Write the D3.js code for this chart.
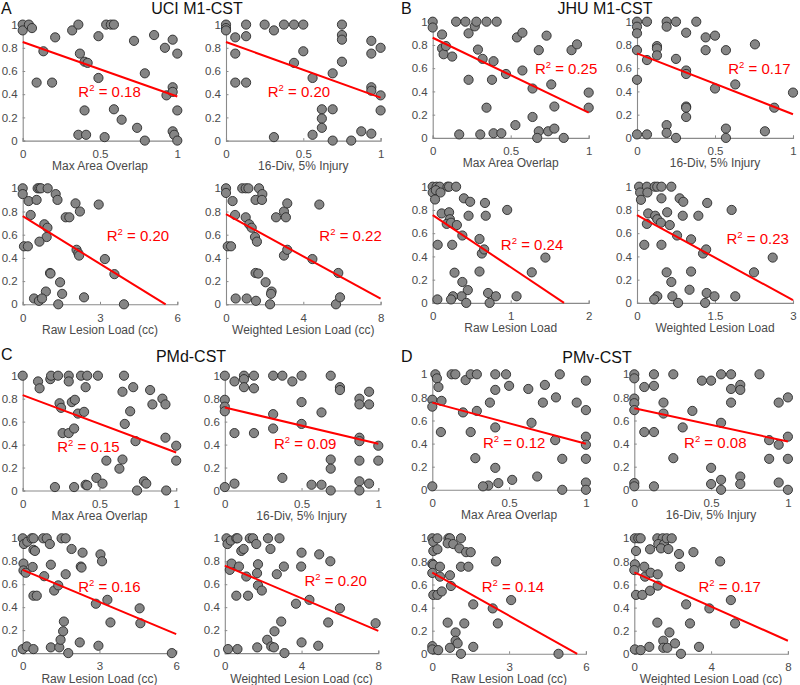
<!DOCTYPE html>
<html><head><meta charset="utf-8">
<script src="https://cdn.jsdelivr.net/npm/d3@7"></script>
<style>
html,body{margin:0;padding:0;background:#fff;}
svg{display:block;font-family:"Liberation Sans",Arial,Helvetica,sans-serif;}
</style></head>
<body>
<svg id="chart" width="800" height="685"></svg>
<script>
// ---------- data ----------
const quadrantTitles = ["UCI M1-CST","JHU M1-CST","PMd-CST","PMv-CST"];
const quadrantLetters = ["A","B","C","D"];
const xLabels = ["Max Area Overlap","16-Div, 5% Injury","Raw Lesion Load (cc)","Weighted Lesion Load (cc)"];
const xLabelsJHU = ["Max Area Overlap","16-Div, 5% Injury","Raw Lesion Load","Weighted Lesion Load"];
const yTicks = [0,0.2,0.4,0.6,0.8,1];
const xTicksUnit = [0,0.5,1];
const xTicksRaw = [0,3,6];
const xTicksWeighted = [0,4,8];
const xTicksRawJHU = [0,1,2];
const xTicksWeightedJHU = [0,1.5,3];

const A1 = [[0,1],[0,0.95],[0.04,1],[0.06,0.97],[0.09,0.5],[0.134,0.77],[0.19,0.5],[0.21,0.89],[0.32,0.95],[0.36,1],[0.37,0.75],[0.40,0.68],[0.42,0.67],[0.40,0.26],[0.36,0.05],[0.41,0.05],[0.49,0.90],[0.49,0.54],[0.53,0.03],[0.54,1],[0.57,1],[0.59,1],[0.59,0.27],[0.64,0.18],[0.72,0.86],[0.74,0.11],[0.79,0.58],[0.79,0],[0.85,0.91],[0.92,0.80],[0.93,0.39],[0.97,0.87],[0.97,0.46],[0.97,0.42],[0.97,0.08],[0.98,0.05],[1,0.75],[1,0.26],[1,0]];
const A2 = [[0,1],[0,0.97],[0,0.95],[0.06,0.89],[0.06,0.75],[0.06,0.5],[0.13,1],[0.13,0.9],[0.13,0.5],[0.25,1],[0.31,0.95],[0.31,0.03],[0.375,1],[0.44,1],[0.5,1],[0.44,0.67],[0.5,0.77],[0.56,0.54],[0.56,0.05],[0.62,0.27],[0.62,0.19],[0.62,0.11],[0.69,0.58],[0.69,0.27],[0.69,0],[0.75,1],[0.75,0.91],[0.75,0.87],[0.75,0.68],[0.81,0],[0.875,0.08],[0.94,0.86],[0.94,0.75],[0.94,0.46],[0.94,0.43],[0.94,0.06],[1,0.8],[1,0.39],[1,0.26]];
const A3 = [[0,1],[0,0.95],[0.23,0.89],[0.54,0.9],[0.31,0.77],[0.05,0.5],[0.2,0.5],[0.58,1],[0.65,1],[0.71,1],[0.97,1],[1.28,0.95],[1.35,0.9],[0.84,0.69],[0.96,0.66],[0.93,0.58],[0.65,0.54],[1.06,0.27],[1.08,0.265],[0.9,0.11],[0.44,0.05],[0.63,0.03],[0.75,0.05],[1.38,0],[1.45,0.19],[1.53,0.09],[1.67,0.75],[1.81,0.75],[2.05,0.87],[2.22,0.8],[2.09,0.47],[2.16,0.44],[2.19,0.42],[2.38,0.06],[2.95,0.86],[3.19,0.39],[3.56,0.26],[3.93,0]];
const A4 = [[0,1],[0,0.96],[0.34,0.89],[0.47,0.77],[0.09,0.5],[0.26,0.5],[0.5,0.05],[0.84,1],[1.02,1],[1.16,1],[1.02,0.75],[1.2,0.69],[1.33,0.66],[1.07,0.05],[1.53,0.9],[1.5,0.58],[1.6,0.54],[1.53,0.27],[1.67,0.265],[1.55,0.03],[1.71,1],[1.88,0.95],[1.86,0.9],[2.05,0.19],[2.36,0.11],[2.33,0.09],[2.28,0],[2.59,0.75],[3.0,0.8],[3.1,0.75],[3.17,0.87],[3.0,0.42],[3.17,0.47],[4.47,0.39],[4.83,0.86],[5.81,0.27],[5.69,0],[5.9,0.06]];
const B1 = [[0,1],[0,0.95],[0.06,0.89],[0.06,0.77],[0.07,0.72],[0.085,0.79],[0.125,0.70],[0.17,0.03],[0.15,1],[0.21,1],[0.23,0.9],[0.23,0.5],[0.27,0.96],[0.28,1],[0.29,0.76],[0.32,0.68],[0.305,0.03],[0.345,1],[0.345,0.26],[0.39,0.66],[0.38,0.5],[0.39,0.04],[0.41,1],[0.44,0.04],[0.47,0.55],[0.53,0.11],[0.54,0.865],[0.575,0.905],[0.575,0.58],[0.64,0.425],[0.64,0.18],[0.68,0.755],[0.68,0.057],[0.67,0],[0.73,0.88],[0.74,0.057],[0.76,0.46],[0.78,0.27],[0.78,0.08],[0.84,0],[0.89,0.755],[0.925,0.805],[1,0.39],[1,0.26]];
const B2 = [[0,1],[0,0.957],[0,0.9],[0,0.755],[0,0.5],[0,0.03],[0.064,1],[0.064,0.67],[0.064,0.03],[0.128,0.79],[0.128,0.77],[0.128,0.71],[0.19,1],[0.19,0.957],[0.19,0.11],[0.19,0.043],[0.25,1],[0.25,0.68],[0.25,0],[0.315,0.905],[0.315,0.58],[0.315,0.55],[0.315,0.27],[0.315,0.26],[0.315,0.18],[0.38,1],[0.44,0.865],[0.44,0.755],[0.5,0.88],[0.5,0.425],[0.57,0.755],[0.57,0.08],[0.57,0],[0.63,0.46],[0.756,0.805],[0.82,0.057],[0.88,0.26],[1,0.39]];
const B3 = [[0,1],[0.05,1],[0.09,1],[0,0.95],[0.04,0.97],[0.1,0.95],[0.03,0.89],[0.19,1],[0.21,1],[0.3,1],[0.115,0.77],[0.21,0.78],[0.22,0.72],[0.18,0.68],[0.235,0.69],[0.31,0.67],[0.064,0.5],[0.25,0.5],[0.38,0.58],[0.28,0.26],[0.38,0.18],[0.45,0.11],[0.37,0.057],[0.26,0.057],[0.235,0.03],[0.06,0.03],[0.43,0],[0.4,0.9],[0.48,0.87],[0.46,0.75],[0.6,0.55],[0.6,0.27],[0.63,0.425],[0.66,0.46],[0.67,0.86],[0.68,0.75],[0.71,0.085],[0.73,0],[0.81,0.057],[0.955,0.8],[1.075,0.057],[1.27,0.263],[1.445,0.39]];
const B4 = [[0.04,1],[0.19,1],[0.06,0.95],[0.2,0.95],[0.076,0.887],[0.34,1],[0.39,1],[0.47,1],[0.66,1],[0.215,0.77],[0.35,0.75],[0.39,0.72],[0.19,0.68],[0.46,0.69],[0.14,0.5],[0.47,0.5],[0.47,0.9],[0.58,0.78],[0.63,0.67],[0.77,0.58],[0.57,0.263],[0.66,0.18],[0.68,0.057],[0.79,0],[0.39,0.057],[0.33,0.03],[0.82,0.9],[0.89,0.87],[0.88,0.75],[1.04,0.547],[1.04,0.27],[1.01,0.113],[1.18,0.75],[1.27,0.425],[1.33,0.46],[1.35,0.86],[1.34,0.085],[1.31,0],[1.49,0.057],[1.82,0.8],[1.89,0.057],[2.25,0.263],[2.61,0.39]];
const C1 = [[0,1],[0.1,0.95],[0.11,0.89],[0.18,0.97],[0.185,1],[0.23,1],[0.21,0.03],[0.24,0.76],[0.25,0.72],[0.26,0.5],[0.3,1],[0.3,0.95],[0.3,0.5],[0.32,0.77],[0.34,0.79],[0.335,0.54],[0.335,0.03],[0.36,0.67],[0.38,1],[0.4,0.685],[0.41,0.9],[0.42,1],[0.41,0.05],[0.42,0.045],[0.49,1],[0.48,0.11],[0.52,0.06],[0.545,0.26],[0.63,0.19],[0.65,0.27],[0.65,0.86],[0.66,1],[0.665,0.58],[0.7,0.69],[0.72,0.9],[0.735,0.43],[0.745,0],[0.79,0.08],[0.805,0.06],[0.83,0.875],[0.845,0.75],[0.91,0.8],[0.93,0.75],[0.93,0.46],[0.935,0],[1,0.39],[1,0.26]];
const C2 = [[0,1],[0,0.79],[0,0.73],[0,0.69],[0,0.03],[0.063,0.95],[0.063,0.5],[0.063,0.06],[0.125,1],[0.125,0.97],[0.125,0.9],[0.19,1],[0.19,0.89],[0.19,0.5],[0.315,1],[0.315,0.665],[0.315,0.54],[0.375,1],[0.375,0.11],[0.44,0.95],[0.5,1],[0.5,0.77],[0.5,0.58],[0.565,0.05],[0.63,0.68],[0.63,0.05],[0.69,1],[0.69,0.27],[0.69,0.19],[0.69,0],[0.75,0.9],[0.75,0.875],[0.877,0.8],[0.877,0.75],[0.877,0.46],[0.877,0.43],[0.877,0.26],[0.877,0.08],[0.877,0],[0.94,0.86],[0.94,0.75],[0.94,0.06],[1,0.39],[1,0.26]];
const C3 = [[0,1],[0.05,0.95],[0.18,0.97],[0.35,1],[0.42,1],[0.03,0.78],[0.03,0.72],[0.12,0.7],[0,0.035],[0.16,0.058],[0.42,0.035],[0.42,0.9],[0.48,0.89],[0.39,0.75],[0.42,0.5],[0.55,0.5],[0.8,1],[0.94,1],[1.06,0.95],[0.84,0.67],[1.1,0.77],[1.23,0.545],[1.39,0.59],[1.1,0.05],[1.43,0.05],[1.48,0.116],[1.58,0.19],[1.61,0.275],[1.52,1],[1.68,1],[1.68,0.687],[1.78,0],[1.91,0.907],[2.34,0.875],[2.27,0.754],[2.3,0.745],[2.23,0.093],[2.86,0.43],[2.96,0.064],[3.04,0.86],[3.1,0.8],[3.31,0.464],[3.43,0.267],[4.57,0.39],[4.6,0.26],[5.83,0]];
const C4 = [[0.09,1],[0.14,0.95],[0.31,0.98],[0.6,1],[0.66,1],[0.26,0.725],[0.35,0.78],[0.17,0.035],[0.66,0.035],[0.6,0.5],[0.74,0.754],[0.86,0.89],[0.98,0.907],[1.12,0.667],[1.21,0.5],[1.3,1],[1.47,1],[1.64,0.95],[1.69,0.05],[1.73,0.774],[1.68,0.696],[1.73,0.59],[1.93,0.545],[2.25,1],[2.38,0.907],[2.21,0.116],[2.42,0.058],[2.56,0.05],[2.59,0.19],[2.71,0.687],[2.85,1],[2.94,0.275],[3.08,0.754],[3.11,0],[3.71,0.43],[4.0,0.875],[3.98,0.754],[4.0,0.093],[4.41,0.464],[4.87,0.064],[4.92,0.86],[5.5,0.8],[5.39,0.267],[6.0,0.39],[7.86,0.26]];
const D1 = [[0,0.78],[0,0.72],[0,0.03],[0.02,1],[0.03,0.965],[0.04,0.89],[0.06,0.77],[0.056,0.5],[0.126,1],[0.15,1],[0.2,0.67],[0.217,0.95],[0.25,1],[0.25,0.5],[0.29,1],[0.29,0.683],[0.28,0.274],[0.375,0.755],[0.41,1],[0.41,0.865],[0.41,0.54],[0.41,0.19],[0.365,0.037],[0.33,0.03],[0.43,0.058],[0.48,1],[0.5,0.9],[0.52,0.086],[0.625,0.873],[0.646,0.58],[0.683,0.115],[0.733,0.908],[0.72,0.755],[0.8,0.43],[0.805,0.8],[0.83,1],[0.846,0.268],[0.846,0],[0.94,0.755],[1,0.945],[1,0.69],[1,0.46],[1,0.39],[1,0.268],[1,0.063],[1,0]];
const D2 = [[0,1],[0,0.965],[0,0.79],[0,0.75],[0,0.69],[0,0.058],[0,0.03],[0.065,0.89],[0.065,0.5],[0.128,1],[0.128,0.9],[0.128,0.5],[0.128,0.03],[0.19,0.755],[0.19,0.66],[0.254,1],[0.254,0.274],[0.315,0.54],[0.378,0.683],[0.44,0.945],[0.5,0.945],[0.5,0.19],[0.5,0.05],[0.565,1],[0.565,0.58],[0.565,0.086],[0.565,0],[0.63,1],[0.63,0.873],[0.63,0.755],[0.69,0.908],[0.69,0.865],[0.69,0.115],[0.69,0.05],[0.815,1],[0.878,0.43],[0.878,0.268],[0.94,0.755],[0.94,0.39],[0.94,0.063],[1,0.8],[1,0.46],[1,0.268],[1,0]];
const D3 = [[0,1],[0.04,0.97],[0.2,1],[0.04,0.89],[0.2,0.905],[0,0.78],[0.04,0.77],[0,0.7],[0.3,0.754],[0.3,0.668],[0.04,0.51],[0.2,0.51],[0.37,0.54],[0,0.066],[0,0.038],[0.23,0.032],[0.63,1],[0.69,1],[0.6,0.957],[0.82,0.95],[0.69,0.68],[0.73,0.587],[0.6,0.27],[0.91,0.185],[0.91,0.113],[0.99,0.09],[0.69,0.052],[1.12,1],[1.06,0.913],[1.12,0.754],[1.32,0.88],[1.5,0.88],[1.41,0.754],[1.12,0],[1.25,0.263],[1.6,0.428],[1.6,0.06],[2.36,0.393],[2.49,0.8],[2.56,0.263],[3.08,0.465],[4.93,0]];
const D4 = [[0.03,1],[0.21,1],[0.33,1],[0.09,0.89],[0.03,0.775],[0,0.725],[0.09,0.51],[0.42,0.51],[0.52,0.754],[0.56,0.668],[0.82,0.905],[0.85,0.702],[0.82,0.546],[0.78,0.06],[0.03,0.038],[0.33,0.032],[1.22,0.688],[1.22,0.59],[1.2,0.27],[1.2,1],[1.48,1],[1.25,0.95],[1.55,0.95],[1.69,1],[1.39,0.913],[1.77,0.907],[1.95,1],[1.51,0.113],[1.51,0.052],[1.72,0.052],[1.83,0.185],[2.12,0.09],[2.43,0],[2.33,0.864],[2.38,0.754],[2.7,0.428],[2.9,0.263],[3.08,0.88],[3.37,0.06],[3.91,0.393],[4.47,0.8],[5.03,0.465],[5.25,0.263]];

// regression fits: [intercept, slope]
const fits = {A1:[0.85,-0.47],A2:[0.85,-0.48],A3:[0.76,-0.137],A4:[0.777,-0.091],
  B1:[0.862,-0.644],B2:[0.727,-0.523],B3:[0.756,-0.449],B4:[0.756,-0.244],
  C1:[0.831,-0.50],C2:[0.723,-0.315],C3:[0.725,-0.0933],C4:[0.762,-0.071],
  D1:[0.755,-0.357],D2:[0.706,-0.288],D3:[0.702,-0.124],D4:[0.705,-0.074]};
const r2Values = {A1:"0.18",A2:"0.20",A3:"0.20",A4:"0.22",B1:"0.25",B2:"0.17",B3:"0.24",B4:"0.23",
  C1:"0.15",C2:"0.09",C3:"0.16",C4:"0.20",D1:"0.12",D2:"0.08",D3:"0.14",D4:"0.17"};

// ---------- layout (not data) ----------
const r2Pos = {A1:[0.36,0.377],A2:[0.27,0.377],A3:[3.26,0.543],A4:[4.83,0.543],
  B1:[0.655,0.549],B2:[0.585,0.549],B3:[0.874,0.453],B4:[1.72,0.504],
  C1:[0.225,0.335],C2:[0.32,0.364],C3:[2.17,0.536],C4:[4.15,0.588],
  D1:[0.33,0.36],D2:[0.324,0.36],D3:[1.93,0.538],D4:[3.34,0.538]};
const quadLayout = [
  {cols:[22.7,226], w:154.6, rows:[24.6,188.3], h:116, titleX:197, titleY:14, letterX:1, letterY:14},
  {cols:[432.7,637], w:156, rows:[21.7,186.7], h:116.2, titleX:605, titleY:14, letterX:401, letterY:14},
  {cols:[22.7,224.8], w:153.5, rows:[375.7,538.3], h:114.8, titleX:191, titleY:362, letterX:1, letterY:360},
  {cols:[432.3,634.3], w:153.6, rows:[374.3,538.3], h:115.5, titleX:597, titleY:363, letterX:401, letterY:362}
];
const dataSets = {A1,A2,A3,A4,B1,B2,B3,B4,C1,C2,C3,C4,D1,D2,D3,D4};

const svg = d3.select("#chart");
const axisColor = "#8a8a8a", tickTextColor = "#4a4a4a";

quadrantLetters.forEach((L, qi) => {
  const lay = quadLayout[qi];
  svg.append("text").attr("x", lay.letterX).attr("y", lay.letterY)
    .attr("font-size", 16).attr("fill", "#111").text(L);
  svg.append("text").attr("x", lay.titleX).attr("y", lay.titleY)
    .attr("text-anchor", "middle").attr("font-size", 16).attr("fill", "#111").text(quadrantTitles[qi]);

  const isJHU = (L === "B");
  const tickSets = isJHU ? [xTicksUnit, xTicksUnit, xTicksRawJHU, xTicksWeightedJHU]
                         : [xTicksUnit, xTicksUnit, xTicksRaw, xTicksWeighted];
  const labels = isJHU ? xLabelsJHU : xLabels;

  for (let p = 0; p < 4; p++) {
    const key = L + (p + 1);
    const row = Math.floor(p / 2), col = p % 2;
    const x0 = lay.cols[col], y0 = lay.rows[row];
    const ticks = tickSets[p];
    const xd = [ticks[0], ticks[ticks.length - 1]];
    const x = d3.scaleLinear().domain(xd).range([x0, x0 + lay.w]);
    const y = d3.scaleLinear().domain([0, 1]).range([y0 + lay.h, y0]);
    const g = svg.append("g");

    // axes
    const xAxis = d3.axisBottom(x).tickValues(ticks).tickSize(-2.5).tickPadding(7).tickFormat(d => String(d));
    const yAxis = d3.axisLeft(y).tickValues(yTicks).tickSize(-2.5).tickPadding(5).tickFormat(d => String(d));
    const gx = g.append("g").attr("transform", `translate(0,${y(0)})`).call(xAxis);
    const gy = g.append("g").attr("transform", `translate(${x(xd[0])},0)`).call(yAxis);
    [gx, gy].forEach(a => {
      a.select(".domain").attr("stroke", axisColor).attr("stroke-width", 1.1);
      a.selectAll(".tick line").attr("stroke", axisColor);
      a.selectAll(".tick text").attr("fill", tickTextColor).attr("font-size", 11.5)
        .attr("font-family", "'Liberation Sans',Arial,sans-serif");
    });
    gx.selectAll(".tick text").attr("dy", "0.9em");

    // axis label
    g.append("text").attr("x", x0 + lay.w / 2).attr("y", y(0) + 29.5)
      .attr("text-anchor", "middle").attr("font-size", 12).attr("fill", tickTextColor)
      .text(labels[p]);

    // points
    g.append("g").selectAll("circle").data(dataSets[key]).join("circle")
      .attr("cx", d => x(d[0])).attr("cy", d => y(d[1])).attr("r", 4.6)
      .attr("fill", "#858585").attr("stroke", "#2a2a2a").attr("stroke-width", 0.9);

    // regression line (clipped to y >= 0)
    const [b, m] = fits[key];
    let xa = xd[0], xb = xd[1];
    if (b + m * xb < 0) xb = -b / m;
    g.append("line").attr("x1", x(xa)).attr("y1", y(b + m * xa))
      .attr("x2", x(xb)).attr("y2", y(b + m * xb))
      .attr("stroke", "#ff0000").attr("stroke-width", 2);

    // R^2 label
    const pos = r2Pos[key];
    const t = g.append("text").attr("x", x(pos[0])).attr("y", y(pos[1]))
      .attr("font-size", 15).attr("fill", "#ff0000");
    t.append("tspan").text("R");
    t.append("tspan").attr("font-size", 9.5).attr("dy", -6).text("2");
    t.append("tspan").attr("dy", 6).text(" = " + r2Values[key]);
  }
});
</script>
</body></html>
